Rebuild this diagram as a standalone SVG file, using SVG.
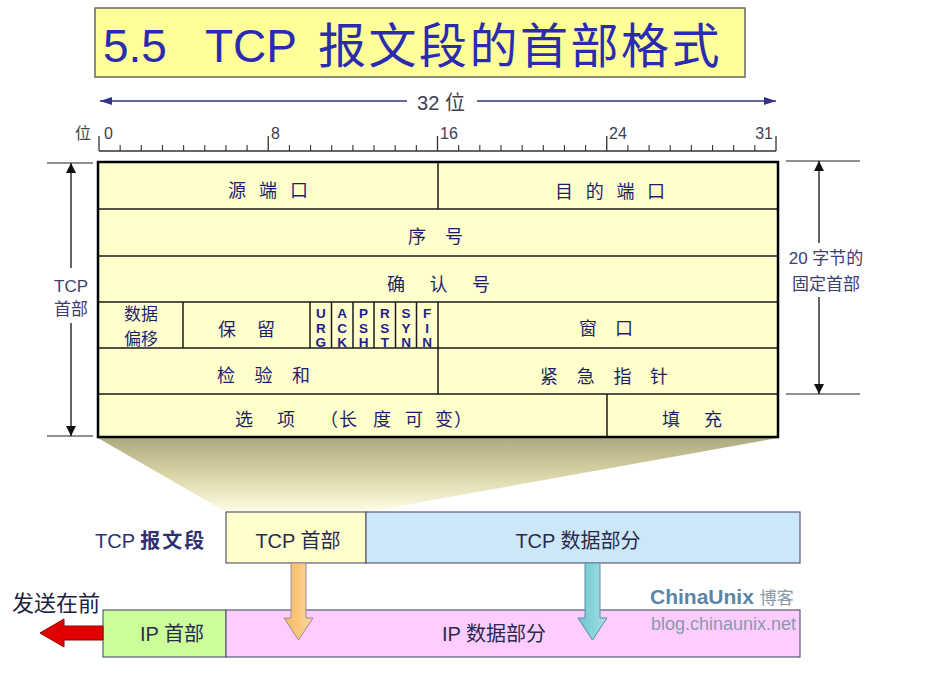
<svg xmlns="http://www.w3.org/2000/svg" width="933" height="678" viewBox="0 0 933 678">
<style>
text{font-family:"Liberation Sans","Noto Sans CJK SC",sans-serif}
.cj{font-family:"Noto Sans CJK SC","Liberation Sans",sans-serif}
.tt{font-size:18px;fill:#1e1e6e}
.flag{font-size:13.5px;font-weight:bold;fill:#1e1e8a;writing-mode:vertical-rl;text-orientation:upright;letter-spacing:-0.5px}
.lbl{font-size:17px;fill:#404070}
.rl{font-size:16px;fill:#404050}
.box{stroke:#5a5a7a;stroke-width:1.2}
.bt{font-size:20px;fill:#2a2a50;text-anchor:middle}
</style>
<defs>
<linearGradient id="trap" x1="0" y1="0" x2="0" y2="1">
<stop offset="0" stop-color="#aeaa80"/>
<stop offset="0.5" stop-color="#d9d5a6"/>
<stop offset="1" stop-color="#fffde6"/>
</linearGradient>
<linearGradient id="org" x1="0" y1="0" x2="1" y2="0">
<stop offset="0" stop-color="#f4b860"/>
<stop offset="1" stop-color="#fbd89a"/>
</linearGradient>
<linearGradient id="teal" x1="0" y1="0" x2="1" y2="0">
<stop offset="0" stop-color="#6cc6cc"/>
<stop offset="1" stop-color="#a4e0e4"/>
</linearGradient>
<marker id="ah" viewBox="0 0 12 8" refX="12" refY="4" markerWidth="12" markerHeight="8" markerUnits="userSpaceOnUse" orient="auto">
<path d="M0,0 L12,4 L0,8 Z" fill="#33338a"/>
</marker>
<marker id="ak" viewBox="0 0 10 12" refX="10" refY="6" markerWidth="10" markerHeight="12" markerUnits="userSpaceOnUse" orient="auto">
<path d="M0,1 L10,6 L0,11 Z" fill="#111"/>
</marker>
</defs>
<rect width="933" height="678" fill="#ffffff"/>

<g id="title">
<rect x="95" y="8" width="650" height="69" fill="#ffff99" stroke="#666666" stroke-width="1.5"/>
<text x="103" y="62" font-size="46" fill="#2b2bb0">5.5</text>
<text x="205" y="62" font-size="46" fill="#2b2bb0">TCP</text>
<text class="cj" x="318 368.5 419 469.5 520 570.5 621 671.5" y="63" font-size="48" fill="#2b2bb0">报文段的首部格式</text>
</g>

<g id="bit-width">
<line x1="407" y1="101" x2="100" y2="101" stroke="#33338a" stroke-width="1.5" marker-end="url(#ah)"/>
<line x1="477" y1="101" x2="776" y2="101" stroke="#33338a" stroke-width="1.5" marker-end="url(#ah)"/>
<text x="441" y="110" font-size="20" fill="#404050" text-anchor="middle">32 位</text>
</g>

<g id="ruler">
<path d="M99 151H776" stroke="#333" stroke-width="1.5" fill="none"/>
<path d="M99 151V136M268.25 151V136M437.5 151V136M606.75 151V136M776 151V136" stroke="#333" stroke-width="1.3" fill="none"/>
<path d="M120.16 151V145M141.31 151V145M162.47 151V145M183.63 151V145M204.78 151V145M225.94 151V145M247.09 151V145M289.41 151V145M310.56 151V145M331.72 151V145M352.88 151V145M374.03 151V145M395.19 151V145M416.34 151V145M458.66 151V145M479.81 151V145M500.97 151V145M522.13 151V145M543.28 151V145M564.44 151V145M585.59 151V145M627.91 151V145M649.06 151V145M670.22 151V145M691.38 151V145M712.53 151V145M733.69 151V145M754.84 151V145" stroke="#333" stroke-width="1.1" fill="none"/>
<text class="rl cj" x="75" y="139">位</text>
<text class="rl" x="104" y="139">0</text>
<text class="rl" x="271" y="139">8</text>
<text class="rl" x="440" y="139">16</text>
<text class="rl" x="609" y="139">24</text>
<text class="rl" x="773" y="139" text-anchor="end">31</text>
</g>

<g id="header-span">
<path d="M47 163H93M47 436H93" stroke="#222" stroke-width="1.2"/>
<line x1="71" y1="268" x2="71" y2="163" stroke="#111" stroke-width="1.3" marker-end="url(#ak)"/>
<line x1="71" y1="323" x2="71" y2="436" stroke="#111" stroke-width="1.3" marker-end="url(#ak)"/>
<text class="lbl" x="71" y="292" text-anchor="middle">TCP</text>
<text class="lbl cj" x="71" y="315" text-anchor="middle">首部</text>
</g>

<g id="fixed-span">
<path d="M786 161H860M786 394H860" stroke="#222" stroke-width="1.2"/>
<line x1="819" y1="243" x2="819" y2="161" stroke="#111" stroke-width="1.3" marker-end="url(#ak)"/>
<line x1="819" y1="297" x2="819" y2="394" stroke="#111" stroke-width="1.3" marker-end="url(#ak)"/>
<text class="lbl" x="826" y="264" text-anchor="middle">20 字节的</text>
<text class="lbl cj" x="826" y="290" text-anchor="middle">固定首部</text>
</g>

<g id="zoom-trapezoid">
<polygon points="98,438 778,438 366,512 226,512" fill="url(#trap)"/>
</g>

<g id="tcp-header">
<rect x="98" y="162" width="680" height="275" fill="#ffffcc"/>
<path d="M98 209H778M98 256H778M98 302H778M98 348H778M98 394H778M438 162V209M183 302V348M310 302V348M331.5 302V348M353 302V348M374 302V348M395.5 302V348M416.5 302V348M438 302V394M607 394V437" stroke="#1a1a1a" stroke-width="1.5" fill="none"/>
<rect x="98" y="162" width="680" height="275" fill="none" stroke="#000" stroke-width="2.5"/>
</g>

<g id="f-src-port"><text class="tt cj" x="228" y="197" letter-spacing="13">源端口</text></g>
<g id="f-dst-port"><text class="tt cj" x="555" y="198" letter-spacing="12.7">目的端口</text></g>
<g id="f-seq"><text class="tt cj" x="408" y="243" letter-spacing="19">序号</text></g>
<g id="f-ack"><text class="tt cj" x="387" y="291" letter-spacing="24.5">确认号</text></g>
<g id="f-offset">
<text class="cj" x="141" y="319.5" font-size="17" fill="#1e1e6e" text-anchor="middle">数据</text>
<text class="cj" x="141" y="344.5" font-size="17" fill="#1e1e6e" text-anchor="middle">偏移</text>
</g>
<g id="f-reserved"><text class="tt cj" x="218" y="336" letter-spacing="21">保留</text></g>
<g id="f-flags">
<text class="flag" x="320.8" y="306">URG</text>
<text class="flag" x="342.2" y="306">ACK</text>
<text class="flag" x="363.5" y="306">PSH</text>
<text class="flag" x="384.8" y="306">RST</text>
<text class="flag" x="406" y="306">SYN</text>
<text class="flag" x="427.2" y="306">FIN</text>
</g>
<g id="f-window"><text class="tt cj" x="579" y="335" letter-spacing="18">窗口</text></g>
<g id="f-checksum"><text class="tt cj" x="217" y="382" letter-spacing="19.5">检验和</text></g>
<g id="f-urgent"><text class="tt cj" x="540" y="383" letter-spacing="18.7">紧急指针</text></g>
<g id="f-options"><text class="tt cj" x="235 277 320 339 373 405 435 454" y="426">选项（长度可变）</text></g>
<g id="f-padding"><text class="tt cj" x="662" y="426" letter-spacing="24">填充</text></g>

<g id="tcp-segment">
<text x="95" y="548" font-size="20" fill="#303070">TCP <tspan class="cj" font-weight="bold" letter-spacing="2">报文段</tspan></text>
</g>
<g id="tcp-hdr-box">
<rect class="box" x="226" y="512" width="140" height="51" fill="#ffffcc"/>
<text class="bt" x="298" y="548">TCP 首部</text>
</g>
<g id="tcp-data-box">
<rect class="box" x="366" y="512" width="434" height="51" fill="#cce8f8"/>
<text class="bt" x="578" y="548">TCP 数据部分</text>
</g>

<g id="send-first">
<text class="cj" x="12" y="611" font-size="22" fill="#202040">发送在前</text>
</g>
<g id="ip-hdr-box">
<rect class="box" x="103" y="610" width="123" height="47" fill="#ccff99"/>
<text class="bt" x="172" y="641">IP 首部</text>
</g>
<g id="ip-data-box">
<rect class="box" x="226" y="610" width="574" height="47" fill="#ffccff"/>
<text class="bt" x="494" y="641">IP 数据部分</text>
</g>

<g id="watermark">
<text x="650" y="604" font-size="21" font-weight="bold" fill="#5a86a8">ChinaUnix <tspan font-size="17" font-weight="normal" fill="#8a98a8">博客</tspan></text>
<text x="651" y="630" font-size="18" fill="#8a9aaa">blog.chinaunix.net</text>
</g>

<g id="connectors">
<polygon points="291,563 306,563 306,618 313,618 298.5,640 284,618 291,618" fill="url(#org)" stroke="#9a8aa0" stroke-width="1"/>
<polygon points="585,563 600,563 600,618 607,618 592.5,640 578,618 585,618" fill="url(#teal)" stroke="#5a8aa8" stroke-width="1"/>
<polygon points="103,626 64,626 64,619 40,633 64,647 64,640 103,640" fill="#e00000" stroke="#900000" stroke-width="1"/>
</g>
</svg>
